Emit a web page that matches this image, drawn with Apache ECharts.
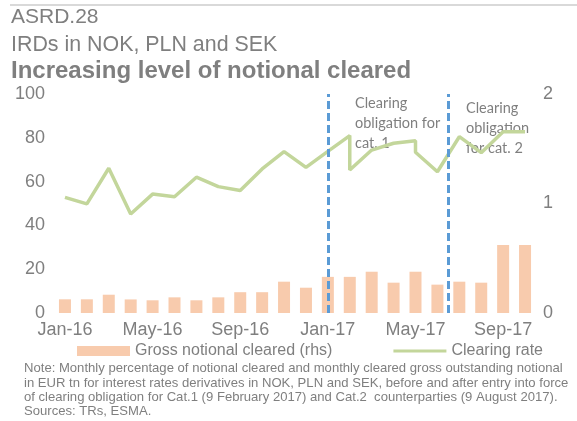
<!DOCTYPE html>
<html>
<head>
<meta charset="utf-8">
<style>
  html, body { margin: 0; padding: 0; background: #fff; }
  #chart { width: 577px; height: 421px; }
</style>
<script src="https://cdn.jsdelivr.net/npm/echarts@6/dist/echarts.min.js"></script>
</head>
<body>
<div id="chart"></div>
<script>
// ---- data ----
const months = ['Jan-16', 'Feb-16', 'Mar-16', 'Apr-16', 'May-16', 'Jun-16', 'Jul-16', 'Aug-16',
  'Sep-16', 'Oct-16', 'Nov-16', 'Dec-16', 'Jan-17', 'Feb-17', 'Mar-17', 'Apr-17', 'May-17',
  'Jun-17', 'Jul-17', 'Aug-17', 'Sep-17', 'Oct-17'];

// gross notional cleared, EUR tn (rhs)
const grossNotional = [0.125, 0.125, 0.167, 0.124, 0.116, 0.143, 0.116, 0.143, 0.19, 0.19, 0.286,
  0.231, 0.33, 0.33, 0.377, 0.277, 0.377, 0.259, 0.286, 0.277, 0.62, 0.62];

// clearing rate, % (month index, value) - two points in Feb-17 and May-17
const ratePos = [0, 1, 2, 3, 4, 5, 6, 7, 8, 9, 10, 11, 12, 13, 13, 14, 15, 16, 16, 17, 18, 19, 20, 21];
const rateValues = [52.8, 49.8, 66.1, 45.2, 54.3, 53.1, 62.0, 57.7, 55.9, 65.8, 73.7, 66.5, 73.8,
  81.0, 65.3, 74.4, 77.5, 78.7, 73.4, 64.5, 80.5, 73.2, 82.8, 82.8];

// clearing obligation start (month index)
const obligationPos = [12, 17.5];
const obligationLabels = ['Clearing\nobligation for\ncat. 1', 'Clearing\nobligation\nfor cat. 2'];

const seriesNames = ['Gross notional cleared (rhs)', 'Clearing rate'];
const noteLines = [
  'Note: Monthly percentage of notional cleared and monthly cleared gross outstanding notional',
  'in EUR tn for interest rates derivatives in NOK, PLN and SEK, before and after entry into force',
  'of clearing obligation for Cat.1 (9 February 2017) and Cat.2  counterparties (9 August 2017).',
  'Sources: TRs, ESMA.'
];

// ---- styles ----
const GREY = '#7f7f7f';
const FONT = 'Liberation Sans, Arial, sans-serif';

const chart = echarts.init(document.getElementById('chart'), null, { renderer: 'canvas' });

const graphics = [
  { type: 'line', shape: { x1: 10, y1: 5, x2: 577, y2: 5 }, style: { stroke: '#d9d9d9', lineWidth: 2 } },
  { type: 'text', left: 11, top: 7, style: { text: 'ASRD.28', font: `21px ${FONT}`, fill: GREY } },
  { type: 'text', left: 11, top: 35, style: { text: 'IRDs in NOK, PLN and SEK', font: `21.4px ${FONT}`, fill: GREY } },
  { type: 'text', left: 11, top: 59, style: { text: 'Increasing level of notional cleared', font: `bold 24px ${FONT}`, fill: GREY } },
  { type: 'text', left: 355, top: 93, style: { text: obligationLabels[0], font: '14.5px Lato, sans-serif', lineHeight: 20, fill: GREY } },
  { type: 'text', left: 466, top: 98, style: { text: obligationLabels[1], font: '14.5px Lato, sans-serif', lineHeight: 20, fill: GREY } }
];
noteLines.forEach((t, i) => {
  graphics.push({ type: 'text', x: 24, y: 362 + i * 14.4, style: { text: t, font: `13.1px ${FONT}`, fill: GREY } });
});

chart.setOption({
  animation: false,
  textStyle: { fontFamily: FONT },
  grid: { left: 54, right: 41, top: 94, bottom: 108 },
  legend: {
    left: 77, top: 343, padding: 0,
    itemWidth: 53, itemHeight: 10, itemGap: 61,
    textStyle: { fontSize: 16, color: GREY },
    data: [
      { name: seriesNames[0], icon: 'rect' },
      { name: seriesNames[1], icon: 'path://M0,0 L53,0 L53,3 L0,3 Z' }
    ]
  },
  xAxis: [
    {
      type: 'category',
      data: months,
      axisLine: { show: false },
      axisTick: { show: false },
      axisLabel: { interval: 3, fontSize: 18, color: GREY, margin: 8 }
    },
    { type: 'value', min: -0.5, max: 21.5, show: false }
  ],
  yAxis: [
    {
      type: 'value', min: 0, max: 100, interval: 20,
      axisLine: { show: false }, axisTick: { show: false }, splitLine: { show: false },
      axisLabel: { fontSize: 18, color: GREY, margin: 9 }
    },
    {
      type: 'value', min: 0, max: 2, interval: 1, position: 'right',
      axisLine: { show: false }, axisTick: { show: false }, splitLine: { show: false },
      axisLabel: { fontSize: 18, color: GREY, margin: 7 }
    }
  ],
  series: [
    {
      name: seriesNames[0],
      type: 'bar',
      xAxisIndex: 0,
      yAxisIndex: 1,
      barWidth: 12,
      itemStyle: { color: '#f8cbad' },
      data: grossNotional
    },
    {
      name: seriesNames[1],
      type: 'line',
      xAxisIndex: 1,
      yAxisIndex: 0,
      symbol: 'none',
      lineStyle: { color: '#c3d69b', width: 3.5 },
      itemStyle: { color: '#c3d69b' },
      data: ratePos.map((x, i) => [x, rateValues[i]]),
      markLine: {
        silent: true,
        symbol: 'none',
        label: { show: false },
        lineStyle: { color: '#5b9bd5', width: 3, type: [8, 4] },
        data: obligationPos.map(x => ({ xAxis: x }))
      }
    }
  ],
  graphic: graphics
});
</script>
</body>
</html>
